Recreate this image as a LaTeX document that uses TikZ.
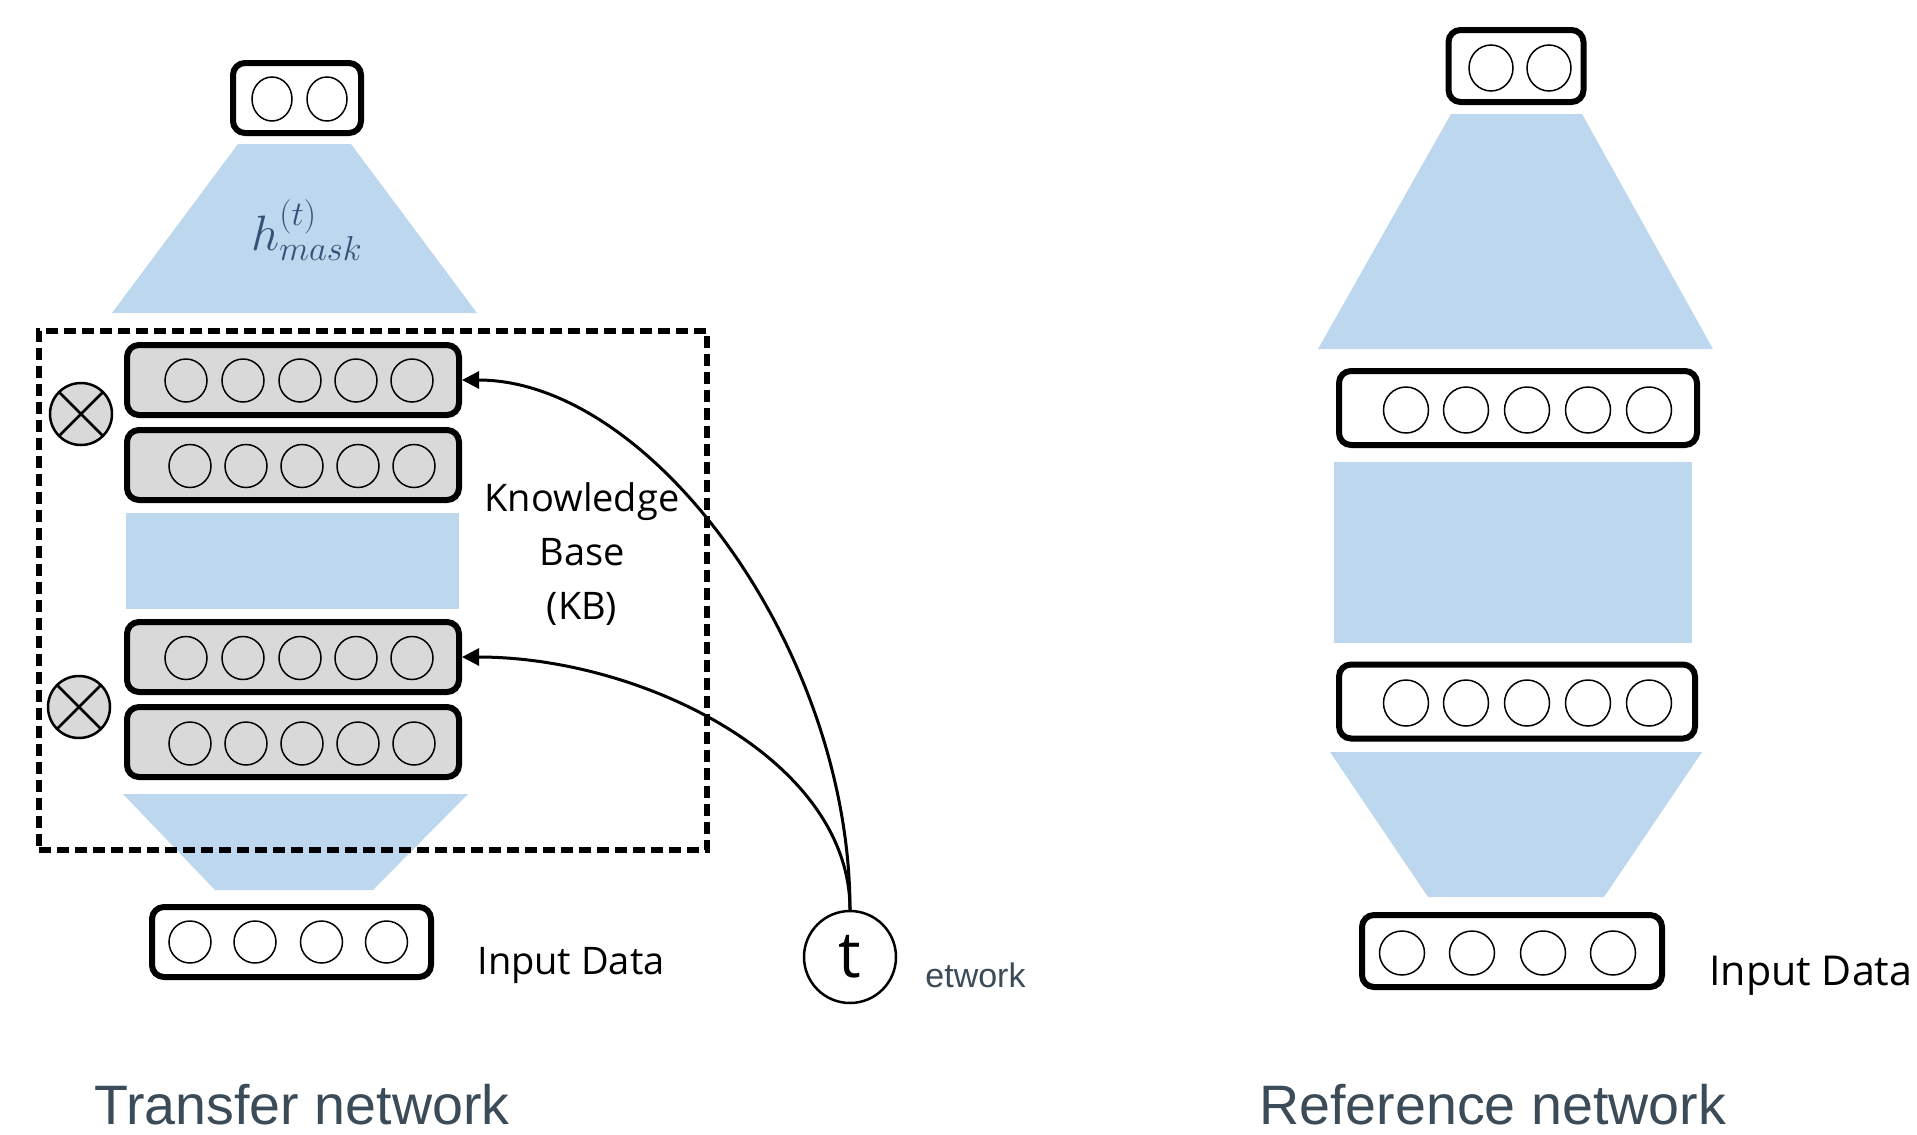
\documentclass[tikz,border=0pt]{standalone}
\usepackage{fontspec}
\setmainfont{Open Sans}
\newfontfamily\arialf{Liberation Sans}
\usetikzlibrary{arrows.meta,shapes.geometric}
\definecolor{lblue}{RGB}{189,215,238}
\definecolor{lgray}{RGB}{217,217,217}
\definecolor{slate}{RGB}{59,75,87}
\definecolor{hcol}{RGB}{52,82,118}
\begin{document}
\begin{tikzpicture}[x=0.5pt,y=-0.5pt,
  layer/.style={rectangle, draw=black, line width=3pt, rounded corners=6pt, inner sep=0pt, fill=white},
  glayer/.style={layer, fill=lgray},
  unit/.style={ellipse, draw=black, line width=0.75pt, inner sep=0pt, minimum width=21pt, minimum height=21.5pt},
  runit/.style={unit, minimum width=22.5pt, minimum height=23pt},
  otim/.style={circle, draw=black, fill=lgray, line width=1.25pt, inner sep=0pt, outer sep=0pt, minimum size=31pt},
  kbframe/.style={rectangle, draw=black, line width=2.8pt, dash pattern=on 6pt off 3pt, inner sep=0pt},
  arr/.style={line width=1.5pt, -{Triangle[length=8.5pt,width=8.5pt]}},
  lbl/.style={inner sep=0pt, font=\fontsize{19}{27}\selectfont},
  title/.style={inner sep=0pt, text=slate, font=\arialf\fontsize{27.8}{32}\selectfont}
]
\useasboundingbox (0,0) rectangle (1917,1135);

% ---------------- Transfer network ----------------
\fill[lblue] (238,144) -- (351,144) -- (477,313) -- (112,313) -- cycle;
\node[inner sep=0pt, text=hcol, font=\fontsize{23}{28}\selectfont] (hmask) at (307,230) {$h^{(t)}_{mask}$};

\node[layer, minimum width=64pt, minimum height=35pt] (lt) at (297,98) {};
\node[unit, minimum width=20pt, minimum height=22pt] (lt1) at (272,99) {};
\node[unit, minimum width=20pt, minimum height=22pt] (lt2) at (327,99) {};

\fill[lblue] (126,513) rectangle (459,609);
\fill[lblue] (123,794) -- (468,794) -- (373,890) -- (215,890) -- cycle;

\node[glayer, minimum width=166pt, minimum height=35pt] (g1) at (293,380) {};
\node[glayer, minimum width=166pt, minimum height=35pt] (g2) at (293,465) {};
\node[glayer, minimum width=166pt, minimum height=35pt] (g3) at (293,657) {};
\node[glayer, minimum width=166pt, minimum height=35pt] (g4) at (293,742) {};
\foreach \b/\y in {g1/380.5,g3/658}{
  \foreach \x [count=\i] in {186,243,300,356,412}{
    \node[unit] (\b c\i) at (\x,\y) {};
  }
}
\foreach \b/\y in {g2/466,g4/743.5}{
  \foreach \x [count=\i] in {190,246,302,358,414}{
    \node[unit] (\b c\i) at (\x,\y) {};
  }
}

\node[otim] (o1) at (81,414) {};
\draw[line width=1.25pt] (o1.north west) -- (o1.south east) (o1.north east) -- (o1.south west);
\node[otim] (o2) at (79,707) {};
\draw[line width=1.25pt] (o2.north west) -- (o2.south east) (o2.north east) -- (o2.south west);

\node[kbframe, minimum width=334pt, minimum height=259.5pt] (kb) at (373,590.5) {};

\node[lbl, align=center] (kbtext) at (582,554) {Knowledge\\Base\\(KB)};

\node[layer, minimum width=139.5pt, minimum height=35pt] (lin) at (291.5,942) {};
\foreach \x [count=\i] in {190,255,321.5,386.5}{
  \node[unit, minimum height=21pt] (lin\i) at (\x,942) {};
}
\node[lbl, anchor=base west] (lindata) at (477,974) {Input Data};

\node[circle, draw=black, line width=1.25pt, minimum size=46pt, inner sep=0pt,
      font=\fontsize{32}{36}\selectfont] (t) at (850,957) {t};
\node[inner sep=0pt, anchor=base west, text=slate, font=\arialf\fontsize{17}{20}\selectfont] (etw) at (925,987) {etwork};

\draw[arr] (t.north) .. controls +(0,-261) and +(189,0) .. (g1.east);
\draw[arr] (t.north) .. controls +(0,-151) and +(179,0) .. (g3.east);

\node[title, anchor=base west] (ttl1) at (94,1124) {Transfer network};

% ---------------- Reference network ----------------
\fill[lblue] (1451,114) -- (1582,114) -- (1713,349) -- (1318,349) -- cycle;
\fill[lblue] (1334,462) rectangle (1692,643);
\fill[lblue] (1330,752) -- (1702,752) -- (1604,897) -- (1428,897) -- cycle;

\node[layer, minimum width=67.5pt, minimum height=36pt] (rt) at (1516,66) {};
\node[runit, minimum width=22pt] (rt1) at (1491,68) {};
\node[runit, minimum width=22pt] (rt2) at (1549,68) {};

\node[layer, minimum width=179pt, minimum height=37pt] (r2) at (1518,408) {};
\node[layer, minimum width=178pt, minimum height=37pt] (r3) at (1517,701.5) {};
\foreach \b/\y in {r2/410,r3/703}{
  \foreach \x [count=\i] in {1406,1466,1527,1588,1649}{
    \node[runit] (\b c\i) at (\x,\y) {};
  }
}

\node[layer, minimum width=150pt, minimum height=36pt] (rin) at (1512,951) {};
\foreach \x [count=\i] in {1402,1472,1543,1613}{
  \node[runit, minimum height=22pt] (rin\i) at (\x,953) {};
}
\node[lbl, anchor=base west, font=\fontsize{20.6}{27}\selectfont] (rindata) at (1709,985) {Input Data};

\node[title, anchor=base west] (ttl2) at (1259,1124) {Reference network};
\end{tikzpicture}
\end{document}
